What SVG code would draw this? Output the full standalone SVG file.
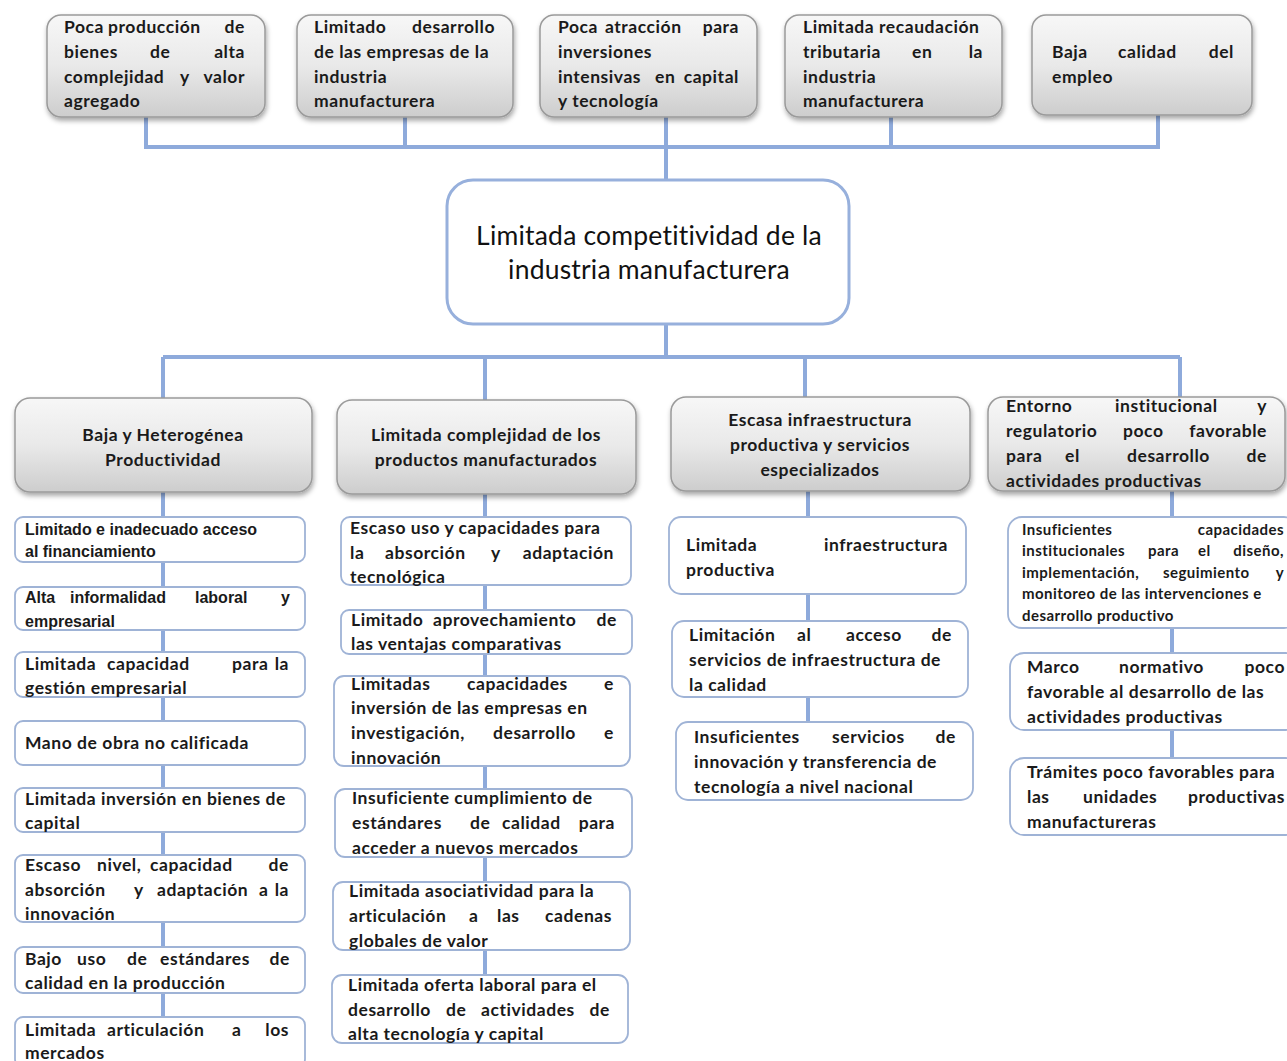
<svg xmlns="http://www.w3.org/2000/svg" width="1287" height="1061" viewBox="0 0 1287 1061">
<defs>
<linearGradient id="gray" x1="0" y1="0" x2="0" y2="1">
<stop offset="0" stop-color="#f7f7f7"/>
<stop offset="0.5" stop-color="#e9e9e9"/>
<stop offset="1" stop-color="#cdcdcd"/>
</linearGradient>
<filter id="sh" x="-10%" y="-10%" width="125%" height="130%">
<feDropShadow dx="1" dy="3" stdDeviation="2.5" flood-color="#000" flood-opacity="0.35"/>
</filter>
<style>
.g{fill:url(#gray);stroke:#9a9a9a;stroke-width:1.5;filter:url(#sh)}
.w{fill:#fff;stroke:#9fb3d6;stroke-width:1.8}
.c{stroke:#8eaadb;stroke-width:4;fill:none}
.t{font-family:Lato,"Liberation Sans",sans-serif;font-weight:700;font-size:17.5px;letter-spacing:0.55px;fill:#1a1a1a}
.a{font-family:"Liberation Sans",Arial,sans-serif;font-weight:700;font-size:16px;fill:#1a1a1a}
.s{font-size:15px;letter-spacing:0.45px}
.e{text-anchor:end}
.m{text-anchor:middle}
.ttl{font-family:Lato,"Liberation Sans",sans-serif;font-weight:400;font-size:26.5px;letter-spacing:0.2px;fill:#111;text-anchor:middle}
</style>
</defs>
<rect width="1287" height="1061" fill="#fff"/>

<g id="connectors">
<path class="c" d="M146 112V147H1158V110M405 112V147M666 112V180M891 112V147"/>
<path class="c" d="M666 324V357M163 357H1180M163 357V398M485 357V400M805 357V397M1180 357V397"/>
<path class="c" d="M163 492V1020"/>
<path class="c" d="M485 494V978"/>
<path class="c" d="M808 491V724"/>
<path class="c" d="M1172 491V760"/>
</g>

<g id="top1">
<rect class="g" x="47" y="15" width="218" height="102" rx="14"/>
<text class="t" y="33"><tspan x="64">Poca</tspan><tspan x="108">producción</tspan><tspan x="245" class="e">de</tspan></text>
<text class="t" y="58"><tspan x="64">bienes</tspan><tspan x="150">de</tspan><tspan x="245" class="e">alta</tspan></text>
<text class="t" y="83"><tspan x="64">complejidad</tspan><tspan x="180">y</tspan><tspan x="245" class="e">valor</tspan></text>
<text class="t" x="64" y="107">agregado</text>
</g>
<g id="top2">
<rect class="g" x="297" y="15" width="216" height="102" rx="14"/>
<text class="t" y="33"><tspan x="314">Limitado</tspan><tspan x="495" class="e">desarrollo</tspan></text>
<text class="t" x="314" y="58">de las empresas de la</text>
<text class="t" x="314" y="83">industria</text>
<text class="t" x="314" y="107">manufacturera</text>
</g>
<g id="top3">
<rect class="g" x="540" y="15" width="217" height="102" rx="14"/>
<text class="t" y="33"><tspan x="558">Poca</tspan><tspan x="605">atracción</tspan><tspan x="739" class="e">para</tspan></text>
<text class="t" x="558" y="58">inversiones</text>
<text class="t" y="83"><tspan x="558">intensivas</tspan><tspan x="655">en</tspan><tspan x="739" class="e">capital</tspan></text>
<text class="t" x="558" y="107">y tecnología</text>
</g>
<g id="top4">
<rect class="g" x="785" y="15" width="217" height="102" rx="14"/>
<text class="t" x="803" y="33">Limitada recaudación</text>
<text class="t" y="58"><tspan x="803">tributaria</tspan><tspan x="912">en</tspan><tspan x="983" class="e">la</tspan></text>
<text class="t" x="803" y="83">industria</text>
<text class="t" x="803" y="107">manufacturera</text>
</g>
<g id="top5">
<rect class="g" x="1032" y="15" width="220" height="100" rx="14"/>
<text class="t" y="58"><tspan x="1052">Baja</tspan><tspan x="1118">calidad</tspan><tspan x="1234" class="e">del</tspan></text>
<text class="t" x="1052" y="83">empleo</text>
</g>

<g id="center">
<rect x="447" y="180" width="402" height="144" rx="26" fill="#fff" stroke="#97b0dc" stroke-width="3"/>
<text class="ttl" x="649" y="245">Limitada competitividad de la</text>
<text class="ttl" x="649" y="279">industria manufacturera</text>
</g>

<g id="h1">
<rect class="g" x="15" y="398" width="297" height="94" rx="15"/>
<text class="t m" x="163" y="441">Baja y Heterogénea</text>
<text class="t m" x="163" y="466">Productividad</text>
</g>
<g id="h2">
<rect class="g" x="337" y="400" width="299" height="94" rx="15"/>
<text class="t m" x="486" y="441">Limitada complejidad de los</text>
<text class="t m" x="486" y="466">productos manufacturados</text>
</g>
<g id="h3">
<rect class="g" x="671" y="397" width="299" height="94" rx="15"/>
<text class="t m" x="820" y="426">Escasa infraestructura</text>
<text class="t m" x="820" y="451">productiva y servicios</text>
<text class="t m" x="820" y="476">especializados</text>
</g>
<g id="h4">
<rect class="g" x="988" y="397" width="297" height="94" rx="15"/>
<text class="t" y="412"><tspan x="1006">Entorno</tspan><tspan x="1115">institucional</tspan><tspan x="1267" class="e">y</tspan></text>
<text class="t" y="437"><tspan x="1006">regulatorio</tspan><tspan x="1123">poco</tspan><tspan x="1267" class="e">favorable</tspan></text>
<text class="t" y="462"><tspan x="1006">para</tspan><tspan x="1065">el</tspan><tspan x="1127">desarrollo</tspan><tspan x="1267" class="e">de</tspan></text>
<text class="t" x="1006" y="487">actividades productivas</text>
</g>

<g id="c1i1">
<rect class="w" x="15" y="517" width="290" height="45" rx="8"/>
<text class="a" x="25" y="535">Limitado e inadecuado acceso</text>
<text class="a" x="25" y="557">al financiamiento</text>
</g>
<g id="c1i2">
<rect class="w" x="15" y="587" width="290" height="43" rx="8"/>
<text class="a" y="603"><tspan x="25">Alta</tspan><tspan x="70">informalidad</tspan><tspan x="195">laboral</tspan><tspan x="290" class="e">y</tspan></text>
<text class="a" x="25" y="627">empresarial</text>
</g>
<g id="c1i3">
<rect class="w" x="15" y="652" width="290" height="45" rx="8"/>
<text class="t" y="670"><tspan x="25">Limitada</tspan><tspan x="107">capacidad</tspan><tspan x="232">para</tspan><tspan x="289" class="e">la</tspan></text>
<text class="t" x="25" y="694">gestión empresarial</text>
</g>
<g id="c1i4">
<rect class="w" x="15" y="721" width="290" height="44" rx="8"/>
<text class="t" x="25" y="749">Mano de obra no calificada</text>
</g>
<g id="c1i5">
<rect class="w" x="15" y="788" width="290" height="44" rx="8"/>
<text class="t" x="25" y="805">Limitada inversión en bienes de</text>
<text class="t" x="25" y="829">capital</text>
</g>
<g id="c1i6">
<rect class="w" x="15" y="855" width="290" height="67" rx="8"/>
<text class="t" y="871"><tspan x="25">Escaso</tspan><tspan x="97">nivel,</tspan><tspan x="150">capacidad</tspan><tspan x="289" class="e">de</tspan></text>
<text class="t" y="896"><tspan x="25">absorción</tspan><tspan x="134">y</tspan><tspan x="157">adaptación</tspan><tspan x="259">a</tspan><tspan x="289" class="e">la</tspan></text>
<text class="t" x="25" y="920">innovación</text>
</g>
<g id="c1i7">
<rect class="w" x="15" y="947" width="290" height="46" rx="8"/>
<text class="t" y="965"><tspan x="25">Bajo</tspan><tspan x="77">uso</tspan><tspan x="127">de</tspan><tspan x="160">estándares</tspan><tspan x="290" class="e">de</tspan></text>
<text class="t" x="25" y="989">calidad en la producción</text>
</g>
<g id="c1i8">
<rect class="w" x="15" y="1017" width="290" height="50" rx="8"/>
<text class="t" y="1036"><tspan x="25">Limitada</tspan><tspan x="107">articulación</tspan><tspan x="232">a</tspan><tspan x="289" class="e">los</tspan></text>
<text class="t" x="25" y="1059">mercados</text>
</g>

<g id="c2i1">
<rect class="w" x="341" y="517" width="290" height="68" rx="9"/>
<text class="t" x="350" y="534">Escaso uso y capacidades para</text>
<text class="t" y="559"><tspan x="350">la</tspan><tspan x="385">absorción</tspan><tspan x="491">y</tspan><tspan x="614" class="e">adaptación</tspan></text>
<text class="t" x="350" y="583">tecnológica</text>
</g>
<g id="c2i2">
<rect class="w" x="341" y="610" width="291" height="44" rx="8"/>
<text class="t" y="626"><tspan x="351">Limitado</tspan><tspan x="433">aprovechamiento</tspan><tspan x="617" class="e">de</tspan></text>
<text class="t" x="351" y="650">las ventajas comparativas</text>
</g>
<g id="c2i3">
<rect class="w" x="334" y="676" width="296" height="90" rx="10"/>
<text class="t" y="690"><tspan x="351">Limitadas</tspan><tspan x="467">capacidades</tspan><tspan x="614" class="e">e</tspan></text>
<text class="t" x="351" y="714">inversión de las empresas en</text>
<text class="t" y="739"><tspan x="351">investigación,</tspan><tspan x="493">desarrollo</tspan><tspan x="614" class="e">e</tspan></text>
<text class="t" x="351" y="764">innovación</text>
</g>
<g id="c2i4">
<rect class="w" x="335" y="789" width="297" height="68" rx="10"/>
<text class="t" x="352" y="804">Insuficiente cumplimiento de</text>
<text class="t" y="829"><tspan x="352">estándares</tspan><tspan x="470">de</tspan><tspan x="502">calidad</tspan><tspan x="615" class="e">para</tspan></text>
<text class="t" x="352" y="854">acceder a nuevos mercados</text>
</g>
<g id="c2i5">
<rect class="w" x="333" y="882" width="297" height="68" rx="10"/>
<text class="t" x="349" y="897">Limitada asociatividad para la</text>
<text class="t" y="922"><tspan x="349">articulación</tspan><tspan x="469">a</tspan><tspan x="497">las</tspan><tspan x="612" class="e">cadenas</tspan></text>
<text class="t" x="349" y="947">globales de valor</text>
</g>
<g id="c2i6">
<rect class="w" x="332" y="975" width="296" height="68" rx="10"/>
<text class="t" x="348" y="991">Limitada oferta laboral para el</text>
<text class="t" y="1016"><tspan x="348">desarrollo</tspan><tspan x="446">de</tspan><tspan x="481">actividades</tspan><tspan x="610" class="e">de</tspan></text>
<text class="t" x="348" y="1040">alta tecnología y capital</text>
</g>

<g id="c3i1">
<rect class="w" x="669" y="517" width="297" height="77" rx="12"/>
<text class="t" y="551"><tspan x="686">Limitada</tspan><tspan x="948" class="e">infraestructura</tspan></text>
<text class="t" x="686" y="576">productiva</text>
</g>
<g id="c3i2">
<rect class="w" x="672" y="621" width="296" height="76" rx="12"/>
<text class="t" y="641"><tspan x="689">Limitación</tspan><tspan x="797">al</tspan><tspan x="846">acceso</tspan><tspan x="952" class="e">de</tspan></text>
<text class="t" x="689" y="666">servicios de infraestructura de</text>
<text class="t" x="689" y="691">la calidad</text>
</g>
<g id="c3i3">
<rect class="w" x="676" y="722" width="297" height="78" rx="12"/>
<text class="t" y="743"><tspan x="694">Insuficientes</tspan><tspan x="832">servicios</tspan><tspan x="956" class="e">de</tspan></text>
<text class="t" x="694" y="768">innovación y transferencia de</text>
<text class="t" x="694" y="793">tecnología a nivel nacional</text>
</g>

<g id="c4i1">
<rect class="w" x="1008" y="517" width="290" height="111" rx="14"/>
<text class="t s" y="535"><tspan x="1022">Insuficientes</tspan><tspan x="1284" class="e">capacidades</tspan></text>
<text class="t s" y="556"><tspan x="1022">institucionales</tspan><tspan x="1148">para</tspan><tspan x="1198">el</tspan><tspan x="1284" class="e">diseño,</tspan></text>
<text class="t s" y="578"><tspan x="1022">implementación,</tspan><tspan x="1163">seguimiento</tspan><tspan x="1284" class="e">y</tspan></text>
<text class="t s" x="1022" y="599">monitoreo de las intervenciones e</text>
<text class="t s" x="1022" y="621">desarrollo productivo</text>
</g>
<g id="c4i2">
<rect class="w" x="1010" y="653" width="290" height="77" rx="14"/>
<text class="t" y="673"><tspan x="1027">Marco</tspan><tspan x="1119">normativo</tspan><tspan x="1285" class="e">poco</tspan></text>
<text class="t" x="1027" y="698">favorable al desarrollo de las</text>
<text class="t" x="1027" y="723">actividades productivas</text>
</g>
<g id="c4i3">
<rect class="w" x="1010" y="758" width="290" height="77" rx="14"/>
<text class="t" x="1027" y="778">Trámites poco favorables para</text>
<text class="t" y="803"><tspan x="1027">las</tspan><tspan x="1083">unidades</tspan><tspan x="1285" class="e">productivas</tspan></text>
<text class="t" x="1027" y="828">manufactureras</text>
</g>
</svg>
